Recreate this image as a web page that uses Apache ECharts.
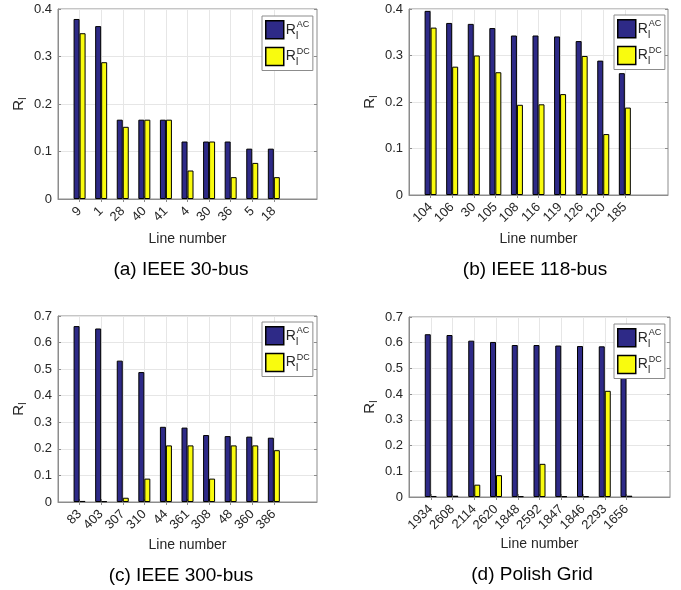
<!DOCTYPE html>
<html>
<head>
<meta charset="utf-8">
<script src="https://cdn.jsdelivr.net/npm/echarts@6/dist/echarts.min.js"></script>
<style>
  html, body { margin: 0; padding: 0; background: #fff; }
  #chart { width: 681px; height: 590px; }
</style>
</head>
<body>
<div id="chart"></div>
<script>
// line numbers and R_I values
const lines30 = ['9', '1', '28', '40', '41', '4', '30', '36', '5', '18']
const ac30 = [0.379, 0.364, 0.167, 0.167, 0.167, 0.121, 0.121, 0.121, 0.106, 0.106]
const dc30 = [0.349, 0.288, 0.152, 0.167, 0.167, 0.060, 0.121, 0.046, 0.076, 0.046]

const lines118 = ['104', '106', '30', '105', '108', '116', '119', '126', '120', '185']
const ac118 = [0.396, 0.370, 0.368, 0.359, 0.343, 0.343, 0.341, 0.331, 0.289, 0.262]
const dc118 = [0.360, 0.276, 0.300, 0.264, 0.194, 0.195, 0.217, 0.299, 0.131, 0.188]

const lines300 = ['83', '403', '307', '310', '44', '361', '308', '48', '360', '386']
const ac300 = [0.662, 0.653, 0.532, 0.489, 0.283, 0.280, 0.252, 0.248, 0.246, 0.242]
const dc300 = [0.004, 0.003, 0.016, 0.088, 0.213, 0.213, 0.088, 0.213, 0.213, 0.195]

const linesPol = ['1934', '2608', '2114', '2620', '1848', '2592', '1847', '1846', '2293', '1656']
const acPol = [0.633, 0.630, 0.608, 0.603, 0.591, 0.591, 0.589, 0.587, 0.586, 0.572]
const dcPol = [0.004, 0.005, 0.048, 0.085, 0.003, 0.129, 0.003, 0.003, 0.413, 0.005]

const captions = ['(a) IEEE 30-bus', '(b) IEEE 118-bus', '(c) IEEE 300-bus', '(d) Polish Grid']
const yMax = [0.4, 0.4, 0.7, 0.7]

const chart = echarts.init(document.getElementById('chart'))
const font = 'Liberation Sans, Arial, sans-serif'
const axisGray = '#8c8c8c'
const gridGray = '#e6e6e6'
const textDark = '#262626'
const acColor = '#2e2a87'
const dcColor = '#f9fb0e'

const panels = [
  {cats: lines30, ac: ac30, dc: dc30, grid: {left: 58, top: 9, width: 259, height: 190}, legend: {left: 262, top: 16}, cap: {x: 176, y: 255}, nameGap: 33},
  {cats: lines118, ac: ac118, dc: dc118, grid: {left: 409, top: 9, width: 259, height: 186}, legend: {left: 614, top: 15}, cap: {x: 530, y: 255}, nameGap: 37},
  {cats: lines300, ac: ac300, dc: dc300, grid: {left: 58, top: 316, width: 259, height: 186}, legend: {left: 262, top: 322}, cap: {x: 176, y: 561}, nameGap: 36},
  {cats: linesPol, ac: acPol, dc: dcPol, grid: {left: 409, top: 317, width: 261, height: 180}, legend: {left: 614, top: 324}, cap: {x: 527, y: 560}, nameGap: 40}
]

const showTick = function(idx) { return idx >= 1 && idx <= 10 }
const grids = [], xAxes = [], yAxes = [], series = [], legends = [], titles = []

panels.forEach(function(p, i) {
  const cats = [''].concat(p.cats, ['', ''])
  const pad = function(arr) { return [null].concat(arr, [null, null]) }
  grids.push(Object.assign({show: true, borderColor: axisGray, borderWidth: 1, backgroundColor: '#fff'}, p.grid))
  xAxes.push({
    type: 'category', gridIndex: i, data: cats, boundaryGap: false,
    name: 'Line number', nameLocation: 'middle', nameGap: p.nameGap,
    nameTextStyle: {fontFamily: font, fontSize: 14, color: textDark},
    axisLine: {lineStyle: {color: axisGray}},
    axisTick: {inside: true, length: 3, interval: showTick, lineStyle: {color: axisGray}},
    axisLabel: {interval: 0, rotate: 45, margin: 10, fontFamily: font, fontSize: 13, color: textDark},
    splitLine: {show: true, interval: showTick, lineStyle: {color: gridGray}}
  })
  xAxes.push({
    type: 'category', gridIndex: i, data: cats, boundaryGap: false, position: 'top',
    axisLine: {show: false},
    axisTick: {inside: true, length: 3, interval: showTick, lineStyle: {color: axisGray}},
    axisLabel: {show: false}, splitLine: {show: false}
  })
  yAxes.push({
    type: 'value', gridIndex: i, min: 0, max: yMax[i], interval: 0.1,
    name: '{r|R}{s|I}', nameLocation: 'middle', nameGap: 30, nameRotate: 90,
    nameTextStyle: {rich: {
      r: {fontFamily: font, fontSize: 15, color: textDark},
      s: {fontFamily: font, fontSize: 10, color: textDark, padding: [8, 0, 0, 0]}
    }},
    axisLine: {show: true, lineStyle: {color: axisGray}},
    axisTick: {show: true, inside: true, length: 3, lineStyle: {color: axisGray}},
    axisLabel: {margin: 6, fontFamily: font, fontSize: 13, color: textDark,
      formatter: function(v) { return v === 0 ? '0' : v.toFixed(1) }},
    splitLine: {show: true, lineStyle: {color: gridGray}}
  })
  yAxes.push({
    type: 'value', gridIndex: i, min: 0, max: yMax[i], interval: 0.1, position: 'right',
    axisLine: {show: false},
    axisTick: {show: true, inside: true, length: 3, lineStyle: {color: axisGray}},
    axisLabel: {show: false}, splitLine: {show: false}
  })
  series.push({
    name: 'AC', type: 'bar', xAxisIndex: i * 2, yAxisIndex: i * 2, data: pad(p.ac),
    barWidth: 6, barGap: '0%', z: 3,
    itemStyle: {color: acColor, borderColor: '#000', borderWidth: 1}
  })
  series.push({
    name: 'DC', type: 'bar', xAxisIndex: i * 2, yAxisIndex: i * 2, data: pad(p.dc),
    barWidth: 6, barGap: '0%', z: 3,
    itemStyle: {color: dcColor, borderColor: '#000', borderWidth: 1}
  })
  legends.push({
    data: ['AC', 'DC'], orient: 'vertical', left: p.legend.left, top: p.legend.top,
    itemWidth: 18, itemHeight: 18, itemGap: 6, padding: [4, 3, 3, 3],
    backgroundColor: '#fff', borderColor: '#8c8c8c', borderWidth: 1, z: 10,
    selectedMode: false, icon: 'rect',
    itemStyle: {borderColor: '#000', borderWidth: 1.5},
    formatter: function(name) { return '{r|R}{s|I}{p|' + name + '}' },
    textStyle: {padding: [0, 0, 0, -3], rich: {
      r: {fontFamily: font, fontSize: 14, color: textDark, lineHeight: 20},
      s: {fontFamily: font, fontSize: 10, color: textDark, width: 1, padding: [12, 0, 0, 0]},
      p: {fontFamily: font, fontSize: 9, color: textDark, padding: [0, 0, 10, 0]}
    }}
  })
  titles.push({
    text: captions[i], left: p.cap.x, top: p.cap.y, textAlign: 'center',
    textStyle: {fontFamily: font, fontSize: 19, fontWeight: 'normal', color: '#000'}
  })
})

chart.setOption({
  animation: false,
  title: titles,
  legend: legends,
  grid: grids,
  xAxis: xAxes,
  yAxis: yAxes,
  series: series
})
</script>
</body>
</html>
